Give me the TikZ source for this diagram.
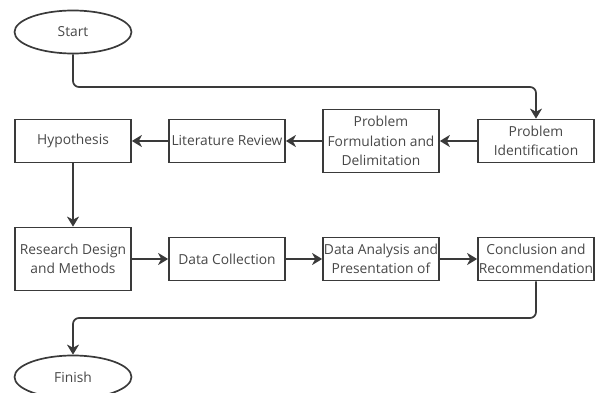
\documentclass[tikz,border=0pt]{standalone}
\usepackage{fontspec}
\setmainfont{Open Sans}
\usetikzlibrary{arrows.meta,shapes.geometric}
\definecolor{linegray}{HTML}{3A3A3A}
\definecolor{textgray}{HTML}{474747}

\begin{document}
\begin{tikzpicture}[x=1pt,y=-1pt,
  box/.style={draw=linegray,line width=1.7pt,minimum width=116pt,minimum height=43pt,
    align=center,inner sep=0.5pt,text=textgray,font=\fontsize{13.8}{19.5}\selectfont},
  term/.style={box,ellipse,minimum width=117pt},
  flow/.style={draw=linegray,line width=1.7pt,rounded corners=6pt,
    -{Stealth[length=10pt,width=12pt,inset=3pt]}}]
\useasboundingbox (0,0) rectangle (600,393);
% first row
\node[term] (start) at (73,32) {Start};
\node[box] (ident) at (536,141) {Problem\\Identification};
\node[box,minimum height=63pt] (formul) at (381,141) {Problem\\Formulation and\\Delimitation};
\node[box] (review) at (227,141) {Literature Review};
\node[box] (hypo) at (73,141) {Hypothesis};
% second row
\node[box,minimum height=63pt] (design) at (73,259) {Research Design\\and Methods};
\node[box] (collect) at (227,259) {Data Collection};
\node[box] (analysis) at (381,259) {Data Analysis and\\Presentation of};
\node[box] (concl) at (536,259) {Conclusion and\\Recommendation};
\node[term] (finish) at (73,377) {Finish};
% bends of the long connectors
\coordinate (top) at (300,87);
\coordinate (bot) at (300,318);

\draw[flow] (start.south) |- (top) -| (ident.north);
\draw[flow] (ident) -- (formul);
\draw[flow] (formul) -- (review);
\draw[flow] (review) -- (hypo);
\draw[flow] (hypo) -- (design);
\draw[flow] (design) -- (collect);
\draw[flow] (collect) -- (analysis);
\draw[flow] (analysis) -- (concl);
\draw[flow] (concl.south) |- (bot) -| (finish.north);
\end{tikzpicture}
\end{document}
